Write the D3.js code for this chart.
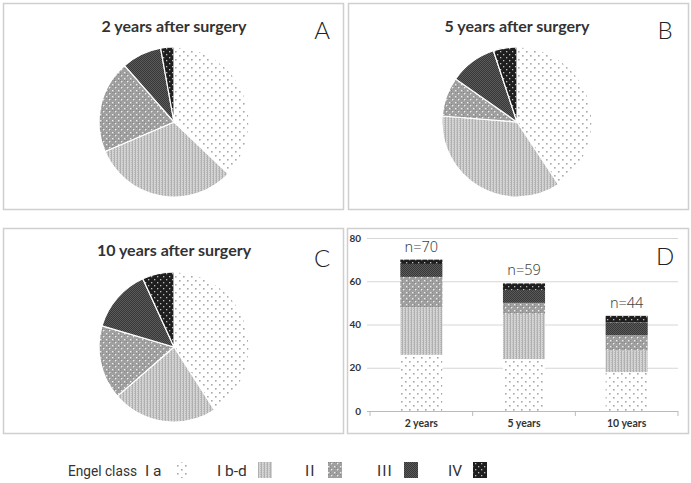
<!DOCTYPE html>
<html>
<head>
<meta charset="utf-8">
<script src="https://cdn.jsdelivr.net/npm/d3@7/dist/d3.min.js"></script>
<style>
html,body{margin:0;padding:0;background:#fff;}
svg{display:block;}
</style>
</head>
<body>
<svg id="chart" width="691" height="483"></svg>
<script>
// ---- data ----
const categories = ["2 years", "5 years", "10 years"];
const pieTitles = ["2 years after surgery", "5 years after surgery", "10 years after surgery"];
const panelLetters = ["A", "B", "C", "D"];
const legendTitle = "Engel class";
const classLabels = ["I a", "I b-d", "II", "III", "IV"];
const classIa  = [26, 24, 18];
const classIbd = [22, 21, 10];
const classII  = [14, 5, 7];
const classIII = [6, 6, 6];
const classIV  = [2, 3, 3];
const yTicks = [0, 20, 40, 60, 80];

const series = [classIa, classIbd, classII, classIII, classIV];
const totals = categories.map((c, i) => d3.sum(series, s => s[i]));

const svg = d3.select("#chart");
const defs = svg.append("defs");

// ---- patterns ----
function pat(id, w, h, bg, draw) {
  const p = defs.append("pattern").attr("id", id).attr("patternUnits", "userSpaceOnUse")
    .attr("width", w).attr("height", h);
  p.append("rect").attr("width", w).attr("height", h).attr("fill", bg);
  draw(p);
}
pat("p0", 8, 8, "#ffffff", p => {
  p.append("rect").attr("x", 1).attr("y", 1).attr("width", 1.6).attr("height", 1.6).attr("fill", "#a8a8a8");
  p.append("rect").attr("x", 5).attr("y", 5).attr("width", 1.6).attr("height", 1.6).attr("fill", "#a8a8a8");
});
pat("p1", 3, 2, "#d4d4d4", p => {
  p.append("rect").attr("x", 0).attr("y", 0).attr("width", 1).attr("height", 2).attr("fill", "#b0b0b0");
  p.append("rect").attr("x", 2).attr("y", 0).attr("width", 1).attr("height", 1).attr("fill", "#bdbdbd");
});
pat("p2", 6, 6, "#a0a0a0", p => {
  [[0,0],[2,2],[4,0],[0,4]].forEach(([a,b]) =>
    p.append("rect").attr("x", a).attr("y", b).attr("width", 1).attr("height", 1).attr("fill", "#888"));
  p.append("rect").attr("x", 1).attr("y", 1).attr("width", 1.4).attr("height", 1.4).attr("fill", "#ececec");
  p.append("rect").attr("x", 4).attr("y", 4).attr("width", 1.4).attr("height", 1.4).attr("fill", "#ececec");
});
pat("p3", 2, 2, "#5a5a5a", p => {
  p.append("rect").attr("x", 0).attr("y", 0).attr("width", 1).attr("height", 1).attr("fill", "#383838");
  p.append("rect").attr("x", 1).attr("y", 1).attr("width", 1).attr("height", 1).attr("fill", "#383838");
});
pat("p4", 6, 6, "#1e1e1e", p => {
  p.append("rect").attr("x", 1).attr("y", 1).attr("width", 1.3).attr("height", 1.3).attr("fill", "#bdbdbd");
  p.append("rect").attr("x", 4).attr("y", 4).attr("width", 1.3).attr("height", 1.3).attr("fill", "#bdbdbd");
});
const fills = classLabels.map((c, i) => `url(#p${i})`);

// ---- panels ----
const panels = [
  {x: 3, y: 3, w: 340, h: 206},
  {x: 348, y: 3, w: 340, h: 206},
  {x: 3, y: 228, w: 340, h: 205},
  {x: 347, y: 228, w: 341, h: 205}
];
panels.forEach(p => {
  svg.append("rect").attr("x", p.x + 0.5).attr("y", p.y + 0.5).attr("width", p.w).attr("height", p.h)
    .attr("fill", "#fff").attr("stroke", "#cfcfcf").attr("stroke-width", 1.5);
});

// ---- pies ----
const pieCenters = [[174, 122], [517, 122], [174, 347]];
const titleY = [32, 32, 256];
const radius = 75;
const pie = d3.pie().sort(null).value(d => d.v);
const arc = d3.arc().innerRadius(0).outerRadius(radius);

categories.forEach((cat, i) => {
  const data = series.map((s, k) => ({k, v: s[i]}));
  const g = svg.append("g").attr("transform", `translate(${pieCenters[i][0]},${pieCenters[i][1]})`);
  g.selectAll("path").data(pie(data)).join("path")
    .attr("d", arc)
    .attr("fill", d => fills[d.data.k])
    .attr("stroke", "#fff").attr("stroke-width", 1.2);
  svg.append("text").attr("x", pieCenters[i][0]).attr("y", titleY[i])
    .attr("text-anchor", "middle")
    .attr("font-family", "Lato, 'Open Sans', sans-serif").attr("font-weight", 700)
    .attr("font-size", 16).attr("fill", "#333").text(pieTitles[i]);
});

// panel letters
const letterPos = [[322, 39], [665, 39], [322, 267], [665, 265]];
panelLetters.forEach((L, i) => {
  svg.append("text").attr("x", letterPos[i][0]).attr("y", letterPos[i][1])
    .attr("text-anchor", "middle")
    .attr("font-family", "Lato, 'Liberation Sans', sans-serif").attr("font-weight", 300)
    .attr("font-size", 24).attr("fill", "#222").text(L);
});

// ---- stacked bar chart (D) ----
const plotL = 370, plotR = 678, plotT = 238, plotB = 411;
const x = d3.scaleBand().domain(categories).range([plotL, plotR]).paddingInner(0.59).paddingOuter(0.295);
const y = d3.scaleLinear().domain([0, 80]).range([plotB, plotT]);

const gD = svg.append("g");
gD.selectAll("line.grid").data(yTicks.slice(1)).join("line").attr("class", "grid")
  .attr("x1", plotL - 3).attr("x2", plotR).attr("y1", d => y(d) + 0.5).attr("y2", d => y(d) + 0.5)
  .attr("stroke", "#d6d6d6").attr("stroke-width", 1);
gD.selectAll("text.yl").data(yTicks).join("text").attr("class", "yl")
  .attr("x", 361).attr("y", d => y(d) + 3.5).attr("text-anchor", "end")
  .attr("font-family", "Lato, 'Open Sans', sans-serif").attr("font-weight", 700)
  .attr("font-size", 10).attr("fill", "#333").text(d => d);

const stack = d3.stack().keys(d3.range(series.length)).value((d, k) => series[k][d]);
const stacked = stack(d3.range(categories.length));
stacked.forEach((layer, k) => {
  gD.selectAll(null).data(layer).join("rect")
    .attr("x", (d, i) => x(categories[i]))
    .attr("width", x.bandwidth())
    .attr("y", d => y(d[1]))
    .attr("height", d => y(d[0]) - y(d[1]))
    .attr("fill", fills[k]);
});

gD.append("line").attr("x1", plotL - 3).attr("x2", plotR).attr("y1", plotB + 0.5).attr("y2", plotB + 0.5)
  .attr("stroke", "#bbb");
const tickXs = d3.range(categories.length + 1).map(i => plotL + i * (plotR - plotL) / categories.length);
gD.selectAll("line.xt").data(tickXs).join("line").attr("class", "xt")
  .attr("x1", d => d).attr("x2", d => d).attr("y1", plotB).attr("y2", plotB + 5)
  .attr("stroke", "#bbb");
gD.selectAll("text.xl").data(categories).join("text").attr("class", "xl")
  .attr("x", d => x(d) + x.bandwidth() / 2).attr("y", 427)
  .attr("text-anchor", "middle")
  .attr("font-family", "Lato, 'Open Sans', sans-serif").attr("font-weight", 700)
  .attr("font-size", 10.5).attr("fill", "#333").text(d => d);
gD.selectAll("text.nl").data(categories).join("text").attr("class", "nl")
  .attr("x", (d, i) => x(d) + x.bandwidth() / 2).attr("y", (d, i) => y(totals[i]) - 8)
  .attr("text-anchor", "middle")
  .attr("font-family", "'Noto Sans', sans-serif").attr("font-weight", 300)
  .attr("font-size", 14.5).attr("fill", "#444").text((d, i) => "n=" + totals[i]);

// ---- legend ----
const legY = 476;
const legFont = "Roboto, 'Liberation Sans', sans-serif";
svg.append("text").attr("x", 68).attr("y", legY)
  .attr("font-family", legFont)
  .attr("font-size", 15).attr("fill", "#333")
  .attr("textLength", 69).attr("lengthAdjust", "spacingAndGlyphs").text(legendTitle);
const legTextX = [145, 217, 305, 377, 448];
const legSwX = [175, 258, 328, 404, 473];
classLabels.forEach((c, i) => {
  svg.append("text").attr("x", legTextX[i]).attr("y", legY)
    .attr("font-family", legFont)
    .attr("font-size", 15.5).attr("fill", "#333")
    .attr("letter-spacing", i >= 2 && i <= 3 ? 1 : 0).text(c);
  svg.append("rect").attr("x", legSwX[i]).attr("y", 462).attr("width", 14).attr("height", 16)
    .attr("fill", fills[i]);
});
</script>
</body>
</html>
